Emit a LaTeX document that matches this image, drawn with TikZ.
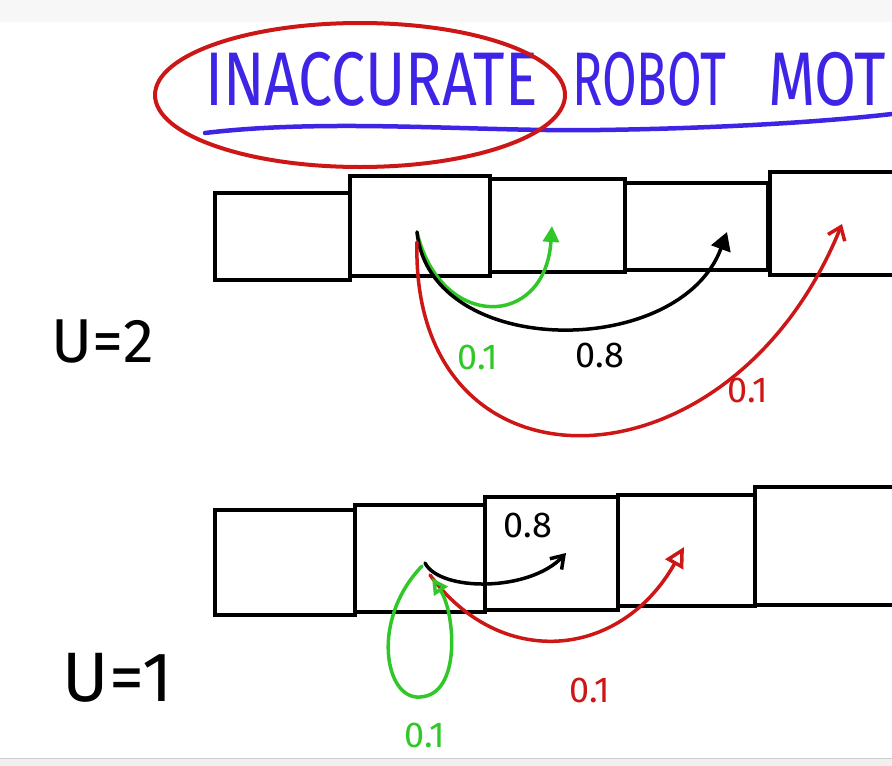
\documentclass[tikz,border=0pt]{standalone}
\usepackage{fontspec}
\setmainfont{Fira Sans}
\newfontfamily\titlefont[FakeStretch=0.8]{Fira Sans}
\newfontfamily\titlenarrow[FakeStretch=0.66]{Fira Sans}
\usetikzlibrary{arrows.meta}
\definecolor{inkblue}{RGB}{62,36,228}
\definecolor{inkred}{RGB}{205,22,22}
\definecolor{inkgreen}{RGB}{48,200,40}

\begin{document}
\begin{tikzpicture}[x=1pt,y=-1pt,
    cell/.style={draw,line width=4pt,inner sep=0pt},
    ink/.style={line width=3.5pt,line cap=round},
    lbl/.style={font=\fontsize{36}{36}\selectfont,inner sep=0pt},
    word/.style={anchor=base west,inkblue,inner sep=0pt,font=\titlefont\fontsize{76}{76}\selectfont}]
    \clip (0,0) rectangle (892,766);
    \fill[gray!6] (0,0) rectangle (892,22);
    \fill[gray!12] (0,758) rectangle (892,766);
    \draw[gray!40] (0,758) -- (892,758);

    \node[word] (w1) at (205,105) {INACCURATE};
    \node[word,font=\titlenarrow\fontsize{76}{76}\selectfont] (w2) at (572,105) {ROBOT};
    \node[word] (w3) at (768,105) {MOTION};
    \draw[inkblue,line width=4.5pt,line cap=round] (205,133) .. controls (330,118) and (480,132) .. (600,130) .. controls (740,128) and (840,120) .. (892,114);
    \draw[inkred,line width=4pt] (360,95) ellipse [x radius=205,y radius=72];

    \foreach \n/\x/\y/\w/\h in {t1/282/236/135/87, t2/420/226/140/100, t3/557/225/135/93, t4/696/226/143/87, t5/840/223/140/103,
        b1/285/562/140/105, b2/420/558/130/107, b3/551/553/133/113, b4/686/550/137/111, b5/825/546/140/118} {
        \node[cell,minimum width=\w pt,minimum height=\h pt] (\n) at (\x,\y) {};
    }

    \node[font=\fontsize{62}{62}\selectfont] (u2) at (103,342) {U=2};
    \node[font=\fontsize{70}{70}\selectfont] (u1) at (118,678) {U=1};

    \coordinate (s2) at (417,232);
    \coordinate (g2) at (552,226);
    \coordinate (k2) at (727,232);
    \coordinate (r2) at (842,224);
    \draw[ink,inkgreen,-{Triangle[length=16pt,width=16pt]}] (s2) .. controls (440,330) and (545,330) .. (g2);
    \draw[ink,-{Triangle[length=18pt,width=20pt]}] (s2) .. controls (430,360) and (680,360) .. (k2);
    \draw[ink,inkred,-{Straight Barb[length=12pt,width=18pt]}] ([yshift=-10pt]s2) .. controls (410,505) and (730,500) .. (r2);
    \node[lbl,inkgreen] (p2a) at (478,357) {0.1};
    \node[lbl] (p2b) at (600,355) {0.8};
    \node[lbl,inkred] (p2c) at (748,390) {0.1};

    \coordinate (s1) at (425,563);
    \coordinate (k1) at (566,553);
    \coordinate (r1) at (684,547);
    \coordinate (g1) at (432,578);
    \draw[ink,-{Straight Barb[length=12pt,width=16pt]}] (s1) .. controls (440,592) and (530,592) .. (k1);
    \draw[ink,inkred,-{Triangle[open,length=20pt,width=20pt]}] ([shift={(5pt,-12pt)}]s1) .. controls (500,670) and (620,660) .. (r1);
    \draw[ink,inkgreen,-{Triangle[open,length=16pt,width=16pt]}] (422,566) .. controls (370,620) and (385,700) .. (420,697) .. controls (462,695) and (455,612) .. (g1);
    \node[lbl,inkgreen] (p1a) at (425,735) {0.1};
    \node[lbl] (p1b) at (528,525) {0.8};
    \node[lbl,inkred] (p1c) at (590,690) {0.1};
\end{tikzpicture}
\end{document}
